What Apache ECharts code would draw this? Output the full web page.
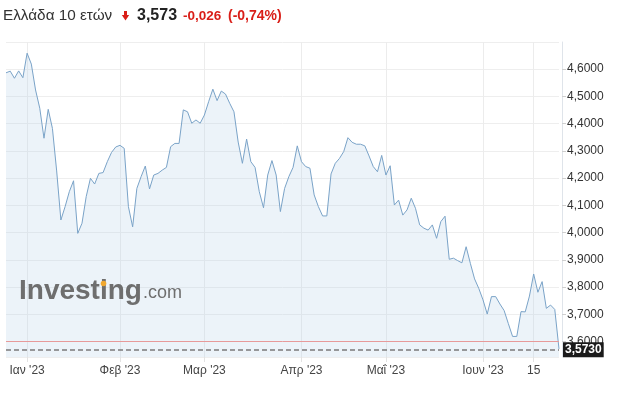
<!DOCTYPE html>
<html><head><meta charset="utf-8">
<script src="https://cdn.jsdelivr.net/npm/echarts@6/dist/echarts.min.js"></script>
<style>html,body{margin:0;padding:0;background:#fff}#c{width:624px;height:400px}</style>
</head><body><div id="c"></div>
<script>
// Daily yields, Greece 10Y
const values = [
4.586, 4.592, 4.566, 4.593, 4.568, 4.658, 4.618, 4.523, 4.456, 4.346,
4.452, 4.382, 4.226, 4.046, 4.095, 4.150, 4.190, 3.997, 4.034, 4.132,
4.199, 4.178, 4.217, 4.220, 4.260, 4.294, 4.314, 4.320, 4.309, 4.095,
4.021, 4.162, 4.205, 4.244, 4.160, 4.211, 4.217, 4.229, 4.239, 4.315,
4.327, 4.327, 4.450, 4.443, 4.401, 4.413, 4.401, 4.431, 4.480, 4.526,
4.484, 4.519, 4.508, 4.474, 4.443, 4.332, 4.254, 4.343, 4.260, 4.239,
4.150, 4.091, 4.211, 4.264, 4.211, 4.077, 4.162, 4.205, 4.239, 4.318,
4.260, 4.242, 4.236, 4.138, 4.095, 4.061, 4.061, 4.215, 4.254, 4.272,
4.297, 4.348, 4.331, 4.324, 4.324, 4.318, 4.281, 4.242, 4.223, 4.283,
4.211, 4.245, 4.101, 4.119, 4.064, 4.083, 4.126, 4.089, 4.028, 4.016,
4.009, 4.028, 3.979, 4.040, 4.060, 3.902, 3.906, 3.897, 3.889, 3.948,
3.887, 3.830, 3.795, 3.753, 3.701, 3.765, 3.765, 3.738, 3.714, 3.666,
3.619, 3.619, 3.710, 3.709, 3.767, 3.848, 3.781, 3.820, 3.722, 3.734,
3.718, 3.573
];
const tickIndex = [5, 27, 47, 70, 90, 113, 125];
const tickLabels = ["Ιαν '23", "Φεβ '23", "Μαρ '23", "Απρ '23", "Μαΐ '23", "Ιουν '23", "15"];
const lastValue = 3.573;
const prevClose = 3.599;
const titleName = "Ελλάδα 10 ετών";
const titlePrice = "3,573";
const titleChange = "-0,026";
const titlePct = "(-0,74%)";

const categories = values.map((v, i) => {
  const k = tickIndex.indexOf(i);
  return k >= 0 ? tickLabels[k] : String(i);
});
const isTick = (i) => tickIndex.indexOf(i) >= 0;
const fmt = (v) => v.toFixed(4).replace('.', ',');
const FONT = "'Liberation Sans', Arial, sans-serif";
const RED = '#d91e18';

const chart = echarts.init(document.getElementById('c'), null, {renderer: 'canvas'});
chart.setOption({
  animation: false,
  backgroundColor: '#fff',
  grid: {left: 6, right: 65, top: 42, bottom: 43, containLabel: false},
  xAxis: {
    type: 'category',
    data: categories,
    boundaryGap: false,
    axisLine: {show: false},
    axisTick: {show: true, interval: isTick, length: 5, lineStyle: {color: '#e3e3e3'}},
    axisLabel: {interval: isTick, color: '#444', fontFamily: FONT, fontSize: 12, margin: 8},
    splitLine: {show: true, interval: isTick, lineStyle: {color: '#ececec', width: 1}}
  },
  yAxis: {
    type: 'value',
    position: 'right',
    offset: 3,
    min: 3.5435,
    max: 4.699,
    splitNumber: 11,
    minInterval: 0.1,
    maxInterval: 0.1,
    axisLine: {show: true, lineStyle: {color: '#dfe4ea'}},
    axisTick: {show: true, length: 4, lineStyle: {color: '#cfcfcf'}},
    axisLabel: {showMinLabel: false, showMaxLabel: false, color: '#333', fontFamily: FONT, fontSize: 12, margin: 5, formatter: fmt},
    splitLine: {show: true, lineStyle: {color: '#eeeeee', width: 1}}
  },
  series: [{
    type: 'line',
    data: values,
    showSymbol: false,
    symbol: 'none',
    lineStyle: {color: '#7aa3c8', width: 1},
    areaStyle: {color: 'rgba(180,206,232,0.36)', origin: 'start'},
    markLine: {
      symbol: 'none',
      silent: true,
      animation: false,
      data: [
        {yAxis: prevClose, lineStyle: {color: '#e79a9a', type: 'solid', width: 1}, label: {show: false}},
        {yAxis: lastValue, lineStyle: {color: '#7a7a7a', type: [5, 3], width: 1.5},
         label: {show: true, position: 'end', distance: 4, formatter: fmt(lastValue),
                 backgroundColor: '#1b1b1b', color: '#fff', fontWeight: 'bold', fontFamily: FONT,
                 fontSize: 12, lineHeight: 13, padding: [1, 2, 1, 2]}}
      ]
    }
  }],
  graphic: [
    {type: 'text', x: 3, y: 16, style: {text: titleName, font: '15.3px ' + FONT, fill: '#333', verticalAlign: 'middle'}},
    {type: 'rect', shape: {x: 124, y: 11, width: 3, height: 4.5}, style: {fill: RED}},
    {type: 'polygon', shape: {points: [[121.8, 15], [129.2, 15], [125.5, 20.5]]}, style: {fill: RED}},
    {type: 'text', x: 137, y: 16, style: {text: titlePrice, font: 'bold 16px ' + FONT, fill: '#222', verticalAlign: 'middle'}},
    {type: 'text', x: 183, y: 16.5, style: {text: titleChange, font: 'bold 13.5px ' + FONT, fill: RED, verticalAlign: 'middle'}},
    {type: 'text', x: 228, y: 16.5, style: {text: titlePct, font: 'bold 14px ' + FONT, fill: RED, verticalAlign: 'middle'}},
    {type: 'text', x: 19, y: 291, z: 50, style: {text: 'Investing', font: 'bold 28px ' + FONT, fill: '#6e6e6e', verticalAlign: 'middle'}},
    {type: 'text', x: 143, y: 293.5, z: 50, style: {text: '.com', font: '18px ' + FONT, fill: '#6e6e6e', verticalAlign: 'middle'}},
    {type: 'circle', z: 51, shape: {cx: 103.5, cy: 283.5, r: 2.8}, style: {fill: '#f0a830'}}
  ]
});
</script></body></html>
